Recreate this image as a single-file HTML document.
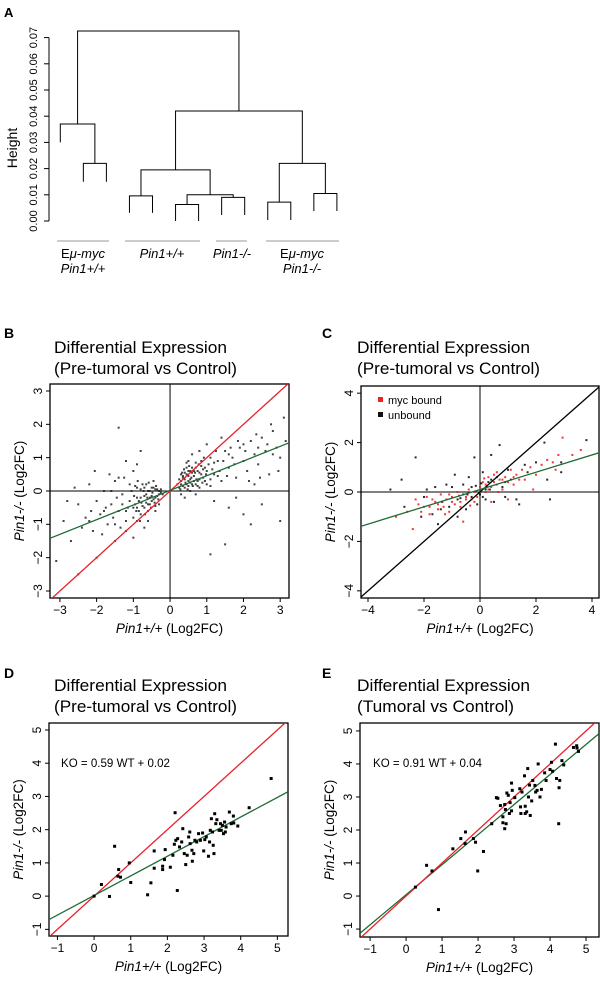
<!DOCTYPE html>
<html><head><meta charset="utf-8"><style>
html,body{margin:0;padding:0;background:#fff;}
svg{display:block;font-family:"Liberation Sans",Arial,sans-serif;}
</style></head><body>
<svg id="fig" width="600" height="985" viewBox="0 0 600 985" xmlns="http://www.w3.org/2000/svg">
<defs>
<clipPath id="cB"><rect x="50" y="384" width="239" height="214"/></clipPath>
<clipPath id="cC"><rect x="361" y="386" width="238" height="212"/></clipPath>
<clipPath id="cD"><rect x="49" y="723" width="239" height="213"/></clipPath>
<clipPath id="cE"><rect x="360" y="723" width="239" height="214"/></clipPath>
</defs>
<g id="panelA"></g>
<g id="panelB"></g>
<g id="panelC"></g>
<g id="panelD"></g>
<g id="panelE"></g>
</svg>
<script>
// ---------- Panel A data ----------
const leafBottoms = [0.030,0.015,0.015,0.0031,0.0031,0.0,0.0,0.0023,0.0023,0.0004,0.0004,0.0038,0.0038];
const mergeLeft  = [-2,-1,-4,-6,-8,4,3,-10,-12,8,7,2];
const mergeRight = [-3,1,-5,-7,-9,5,6,-11,-13,9,10,11];
const mergeHeights = [0.022,0.037,0.0096,0.0063,0.009,0.010,0.0195,0.0072,0.0105,0.022,0.042,0.0725];
const heightTicks = [0,0.01,0.02,0.03,0.04,0.05,0.06,0.07];
const tickLabelsA = ["0.00","0.01","0.02","0.03","0.04","0.05","0.06","0.07"];

// ---------- Panel B data ----------
const bX = [0.3,0.35,0.4,0.45,0.5,0.55,0.6,0.65,0.7,0.75,0.8,0.85,0.9,0.95,1.0,1.05,1.1,1.2,1.3,1.4,1.5,1.6,1.7,1.8,1.9,2.0,2.1,2.2,2.3,2.4,2.5,2.6,2.7,2.8,2.9,3.0,3.1,0.3,0.4,0.5,0.6,0.7,0.8,1.0,1.2,1.4,1.6,2.0,2.5,3.0,1.1,1.5,2.2,0.25,0.33,0.42,0.48,0.52,0.58,0.62,0.68,0.72,0.78,0.88,0.92,0.98,1.15,1.25,1.35,1.45,1.55,1.65,1.75,1.85,2.05,2.15,2.35,2.45,2.65,2.75,2.95,3.15,0.38,0.28,0.55,0.45,
0.3,0.35,0.4,0.45,0.5,0.55,0.6,0.65,0.7,0.75,0.8,0.85,0.9,0.4,0.5,0.6,0.7,0.8,0.35,0.45,0.55,0.65,0.75,0.85,1.0,1.1,1.2,1.3,0.3,0.5,0.2,0.25,1.1,0.95,1.6,2.0,2.4,2.8,1.8,2.3,
-0.3,-0.35,-0.4,-0.45,-0.5,-0.55,-0.6,-0.65,-0.7,-0.75,-0.8,-0.85,-0.9,-0.95,-1.0,-1.05,-1.1,-1.2,-1.3,-1.4,-1.5,-1.6,-1.7,-1.8,-1.9,-2.0,-2.1,-2.2,-2.3,-2.5,-2.7,-2.9,-3.1,-1.0,-1.2,-0.8,-1.5,-1.0,-0.7,-2.0,-2.5,-1.4,-0.9,-0.25,-0.32,-0.38,-0.42,-0.48,-0.52,-0.58,-0.62,-0.68,-0.72,-0.78,-0.82,-0.88,-0.92,-0.98,-1.15,-1.25,-1.35,-1.45,-1.55,-1.65,-1.75,-1.85,-2.05,-2.15,-2.4,-2.6,-2.8,-0.6,-0.4,-0.3,
-0.3,-0.35,-0.4,-0.45,-0.5,-0.55,-0.6,-0.65,-0.7,-0.75,-0.8,-0.85,-0.9,-0.95,-0.4,-0.5,-0.6,-0.7,-0.8,-0.9,-1.0,-1.1,-1.2,-1.3,-0.2,-0.25,-0.45,-0.55,-0.65,-1.5,-1.2,-0.9,-1.8,-2.2,-1.6,-1.4];
const bY = [0.2,0.4,0.1,0.5,0.3,0.6,0.2,0.45,0.7,0.3,0.55,0.9,0.4,0.7,0.2,0.8,1.0,0.5,0.9,0.3,1.2,0.7,1.0,0.4,1.3,0.9,0.6,1.5,1.1,0.8,1.6,1.2,0.5,1.8,1.3,1.0,2.2,-0.1,-0.2,0.9,1.1,-0.1,1.2,1.4,-0.3,1.6,-0.5,-0.7,-0.4,-0.9,-1.9,-1.6,-1.0,0.35,0.55,0.25,0.05,0.75,0.4,0.15,0.55,0.35,0.8,0.25,1.0,0.5,0.65,1.2,0.6,0.9,0.45,1.3,0.8,1.5,1.2,0.3,1.7,0.4,1.4,2.0,0.6,1.5,0.65,0.05,0.0,0.85,
0.3,0.15,0.35,0.2,0.45,0.25,0.55,0.3,0.2,0.6,0.35,0.5,0.65,0.55,0.15,0.7,0.85,0.1,0.45,0.7,0.35,0.6,0.15,0.75,0.6,0.35,0.85,0.45,0.5,0.6,0.2,0.1,0.15,0.3,1.1,1.4,1.3,1.1,-0.2,0.2,
-0.1,0.05,-0.2,0.1,-0.3,0.0,-0.4,-0.1,-0.5,0.2,-0.2,-0.6,0.1,-0.4,-0.8,0.0,-0.3,-0.9,-0.1,-0.6,0.3,-0.4,-1.0,0.0,-0.7,-0.3,-1.2,0.2,-0.8,-0.4,-1.5,-0.9,-2.1,0.6,0.9,1.2,-1.5,-1.4,-1.1,-2.0,-2.5,1.9,0.8,-0.05,-0.25,0.15,-0.35,-0.05,-0.5,0.25,-0.2,-0.7,0.0,-0.35,-0.9,0.3,-0.6,-0.15,-0.5,0.4,-1.1,-0.2,-0.8,0.5,-0.5,-1.3,0.6,-0.6,-1.1,0.1,-0.3,-0.9,-0.6,-0.4,
0.0,-0.15,0.05,-0.25,0.1,-0.2,0.0,-0.35,-0.15,-0.45,0.05,-0.3,-0.5,0.15,-0.45,-0.15,-0.6,0.1,-0.7,-0.2,-0.5,0.2,-0.6,-0.4,-0.1,0.05,0.3,-0.4,0.2,-1.0,-1.2,-0.9,-0.6,-0.9,0.0,0.4];
const bTicks = [-3,-2,-1,0,1,2,3];
const bFitSlope = 0.44, bFitIntercept = 0.02;

// ---------- Panel C data ----------
const cRedX = [-3.0,-2.6,-2.4,-2.2,-2.0,-1.9,-1.8,-1.6,-1.5,-1.4,-1.3,-1.2,-1.1,-1.0,-0.9,-0.8,-0.7,-0.6,-0.5,-0.4,-0.3,-0.2,-0.1,0.0,0.1,0.2,0.3,0.4,0.5,0.6,0.7,0.8,0.9,1.0,1.1,1.2,1.3,1.5,1.6,1.8,2.0,2.2,2.4,2.6,2.8,2.95,3.3,3.6,1.0,0.4,-1.7,-2.3,-1.25,-0.35,0.25,0.65,1.9,2.7,-0.75,0.15,-1.5,-1.0,-0.5,0.2,0.5,0.8,1.2,-1.8,-2.1,-0.7,0.3,1.4,-1.1,0.6,-0.2];
const cRedY = [-1.0,-0.8,-1.5,-0.5,-0.6,-0.2,-0.9,-0.4,-0.7,-0.1,-0.6,-0.3,-0.8,-0.2,-0.5,0.0,-0.4,-1.2,-0.2,0.1,-0.3,0.0,-0.2,0.2,0.4,0.0,0.6,0.2,0.7,0.3,0.5,0.1,0.6,0.4,0.9,0.3,0.7,0.9,0.5,1.0,0.7,1.1,1.3,1.2,1.5,2.2,1.5,1.7,-0.3,-0.4,-0.3,-0.3,-0.9,-0.55,0.25,0.0,0.1,0.9,-0.15,0.55,-0.5,-0.4,-0.3,0.3,0.4,0.5,0.6,-0.6,-0.8,-0.6,0.1,0.5,-0.1,0.8,-0.4];
const cBlackX = [-3.2,-2.8,-2.3,-2.7,-2.1,-1.9,-1.6,-1.5,-1.2,-1.1,-0.9,-0.8,-0.6,-0.5,-0.4,-0.3,-0.2,-0.1,0.0,0.1,0.2,0.3,0.4,0.5,0.7,0.8,0.9,1.1,1.3,1.4,1.6,2.0,2.3,2.4,2.5,2.9,3.8,2.9,-1.35,-0.7,0.6,-0.15,0.05,1.7,-2.0,-1.0,0.35,-0.45,-1.4,-0.8,0.2,0.4,-0.6,-1.7,0.9,-0.3,0.1,1.0];
const cBlackY = [0.1,0.5,1.4,-0.6,-1.0,0.1,0.2,-1.3,0.3,-0.6,0.7,-1.0,0.3,-0.7,0.6,-0.2,1.4,-0.5,-0.1,0.8,-0.3,0.4,1.5,-0.4,1.9,0.2,-0.2,0.5,-0.3,-0.5,1.1,1.2,2.0,0.5,-0.3,1.2,2.1,0.8,-0.4,-0.25,0.6,0.25,0.35,0.8,-0.2,0.2,0.1,-0.1,-0.7,-0.3,0.1,0.5,-0.1,-0.9,0.4,0.2,-0.2,0.9];
const cTicks = [-4,-2,0,2,4];
const cFitSlope = 0.35, cFitIntercept = 0.1;

// ---------- Panel D data ----------
const dX = [0,0.2,0.42,0.56,0.67,0.65,0.72,0.96,1.0,1.46,1.55,1.64,1.64,1.87,1.87,1.94,1.92,2.08,2.15,2.19,2.21,2.27,2.23,2.28,2.33,2.39,2.42,2.46,2.5,2.54,2.58,2.61,2.62,2.67,2.68,2.72,2.75,2.8,2.85,2.9,2.96,2.99,3.02,3.06,3.12,3.15,3.17,3.2,3.23,3.25,3.27,3.29,3.32,3.35,3.41,3.45,3.5,3.53,3.56,3.6,3.69,3.74,3.8,3.81,3.92,4.23,4.83,3.47,3.58];
const dY = [0,0.35,-0.01,1.5,0.8,0.6,0.57,1.0,0.41,0.04,0.4,1.36,0.84,0.9,0.8,1.4,1.1,0.87,1.23,1.56,2.51,0.17,1.68,1.73,1.48,1.63,2.03,1.28,0.95,1.23,1.78,1.93,1.58,1.38,1.05,1.28,1.68,1.63,1.88,1.68,1.9,1.36,1.7,1.78,1.2,1.63,1.98,2.33,1.93,1.53,1.28,2.48,2.18,2.3,1.98,2.18,2.13,1.88,2.23,2.08,2.53,2.18,2.41,2.2,2.11,2.66,3.54,1.98,1.93];
const dSlope = 0.59, dIntercept = 0.02;

// ---------- Panel E data ----------
const eX = [0.26,0.57,0.72,0.9,1.3,1.52,1.65,1.64,1.87,1.93,1.99,2.15,2.38,2.51,2.55,2.62,2.69,2.69,2.74,2.74,2.76,2.78,2.8,2.84,2.87,2.89,2.93,2.93,2.95,3.02,3.16,3.18,3.19,3.22,3.29,3.31,3.31,3.35,3.38,3.4,3.43,3.45,3.49,3.52,3.58,3.6,3.64,3.67,3.72,3.76,3.85,3.89,4.0,4.04,4.07,4.15,4.18,4.24,4.27,4.25,4.33,4.38,4.65,4.74,4.79,4.75];
const eY = [0.27,0.93,0.76,-0.41,1.43,1.74,1.94,1.59,1.74,1.63,0.76,1.35,2.19,2.98,2.96,2.74,2.4,2.22,2.77,2.04,2.62,2.19,3.12,3.05,2.5,2.83,3.42,2.58,3.2,2.98,3.25,2.7,2.5,3.15,3.64,2.72,2.5,2.55,3.86,3.0,3.36,2.44,2.88,3.5,3.35,3.15,3.2,4.0,3.0,3.23,3.73,3.5,3.83,4.05,3.78,4.6,3.56,2.19,3.5,3.28,4.1,3.97,4.5,4.55,4.38,4.48];
const eSlope = 0.91, eIntercept = 0.04;
const deTicks = [-1,0,1,2,3,4,5];

const NS = "http://www.w3.org/2000/svg";
function mk(parent, tag, attrs, txt){
  const el = document.createElementNS(NS, tag);
  for (const k in attrs) el.setAttribute(k, attrs[k]);
  if (txt !== undefined) el.textContent = txt;
  parent.appendChild(el);
  return el;
}
function linScale(d0, d1, r0, r1){ return v => r0 + (v - d0) * (r1 - r0) / (d1 - d0); }

// ---------- Panel A ----------
(function(){
  const g = document.getElementById('panelA');
  const yA = linScale(0, 0.07, 221, 37.6);
  const leafX = i => 60.3 + i * 23.05;
  let t = mk(g,'text',{x:4,y:17,'font-size':13,'font-weight':'bold'},'A');
   
  let ax = mk(g,'line',{x1:49,x2:49,y1:yA(0),y2:yA(0.07),stroke:'#000','stroke-width':1});
   
  heightTicks.forEach((v,i)=>{
    const tk = mk(g,'line',{x1:44,x2:49,y1:yA(v),y2:yA(v),stroke:'#000'});
     
    const lb = mk(g,'text',{x:0,y:0,'font-size':11,'text-anchor':'middle',transform:`translate(37,${yA(v)}) rotate(-90)`},tickLabelsA[i]);
     
  });
  const ht = mk(g,'text',{x:0,y:0,'font-size':14,'text-anchor':'middle',transform:'translate(17,148) rotate(-90)'},'Height');
   
  const nodeX = [], nodeH = [];
  function pos(c){ return c < 0 ? [leafX(-c-1), leafBottoms[-c-1]] : [nodeX[c-1], nodeH[c-1]]; }
  mergeHeights.forEach((h,i)=>{
    const [xl,hl] = pos(mergeLeft[i]); const [xr,hr] = pos(mergeRight[i]);
    nodeX.push((xl+xr)/2); nodeH.push(h);
    const p = mk(g,'path',{d:`M${xl},${yA(hl)}V${yA(h)}H${xr}V${yA(hr)}`,fill:'none',stroke:'#000','stroke-width':1});
     
  });
  const groups = [[57,109,83,'Eμ-myc','Pin1+/+'],[125,200,162,null,'Pin1+/+'],[216,247,232,null,'Pin1-/-'],[266,339,302,'Eμ-myc','Pin1-/-']];
  groups.forEach(gr=>{
    const l = mk(g,'line',{x1:gr[0],x2:gr[1],y1:241,y2:241,stroke:'#999','stroke-width':1});
     
    if (gr[3]) {
      const a = mk(g,'text',{x:gr[2],y:258,'font-size':13,'text-anchor':'middle'});
       
      mk(a,'tspan',{},'E'); mk(a,'tspan',{'font-style':'italic'},'μ-myc');
      const b = mk(g,'text',{x:gr[2],y:273,'font-size':13,'text-anchor':'middle','font-style':'italic'},gr[4]);
       
    } else {
      const b = mk(g,'text',{x:gr[2],y:258,'font-size':13,'text-anchor':'middle','font-style':'italic'},gr[4]);
       
    }
  });
})();

// ---------- generic scatter panel ----------
function panel(id, o){
  const g = document.getElementById(id);
  const sx = linScale(o.xd[0],o.xd[1],o.box[0],o.box[2]);
  const sy = linScale(o.yd[0],o.yd[1],o.box[3],o.box[1]);
  const L = mk(g,'text',{x:o.lx,y:o.ly,'font-size':14,'font-weight':'bold'},o.letter);
   
  const t1 = mk(g,'text',{x:o.tx,y:o.ty,'font-size':16.5,textLength:173,lengthAdjust:'spacingAndGlyphs'},'Differential Expression');
   
  const t2 = mk(g,'text',{x:o.tx,y:o.ty+21,'font-size':16.5,textLength:o.t2len,lengthAdjust:'spacingAndGlyphs'},o.title2);
   
  const W = o.box[2]-o.box[0], H = o.box[3]-o.box[1];
  const fr = mk(g,'rect',{x:o.box[0],y:o.box[1],width:W,height:H,fill:'none',stroke:'#000','stroke-width':1.3});
   
  o.ticks.forEach(v=>{
    const a = mk(g,'line',{x1:sx(v),x2:sx(v),y1:o.box[3],y2:o.box[3]+4,stroke:'#000'});
     
    const al = mk(g,'text',{x:sx(v),y:o.box[3]+16,'font-size':12,'text-anchor':'middle'},String(v).replace('-','\u2212'));
     
    const b = mk(g,'line',{x1:o.box[0]-4,x2:o.box[0],y1:sy(v),y2:sy(v),stroke:'#000'});
     
    const bl = mk(g,'text',{x:0,y:0,'font-size':12,'text-anchor':'middle',transform:`translate(${o.box[0]-8},${sy(v)}) rotate(-90)`},String(v).replace('-','\u2212'));
     
  });
  const cx = (o.box[0]+o.box[2])/2, cy=(o.box[1]+o.box[3])/2;
  const xl = mk(g,'text',{x:cx,y:o.box[3]+35,'font-size':13.5,'text-anchor':'middle'});
   
  mk(xl,'tspan',{'font-style':'italic'},'Pin1+/+'); mk(xl,'tspan',{},' (Log2FC)');
  const yl = mk(g,'text',{x:0,y:0,'font-size':13.5,'text-anchor':'middle',transform:`translate(${o.box[0]-26},${cy}) rotate(-90)`});
   
  mk(yl,'tspan',{'font-style':'italic'},'Pin1-/-'); mk(yl,'tspan',{},' (Log2FC)');
  const plot = mk(g,'g',{'clip-path':`url(#${o.clip})`});
   
  return {g, plot, sx, sy, xd:o.xd};
}
function fitLine(P, slope, icpt, color, name){
  const l = mk(P.plot,'line',{x1:P.sx(P.xd[0]),y1:P.sy(slope*P.xd[0]+icpt),x2:P.sx(P.xd[1]),y2:P.sy(slope*P.xd[1]+icpt),stroke:color,'stroke-width':1.3});
   
}
function points(P, xs, ys, sz, color, name, op){
  xs.forEach((x,i)=>{
    const r = mk(P.plot,'rect',{x:P.sx(x)-sz/2,y:P.sy(ys[i])-sz/2,width:sz,height:sz,fill:color,'fill-opacity':op});
     
  });
}

// B
(function(){
  const P = panel('panelB',{box:[50,384,289,598],xd:[-3.27,3.24],yd:[-3.21,3.21],ticks:bTicks,clip:'cB',letter:'B',lx:4,ly:338,tx:54,ty:353,title2:'(Pre-tumoral vs Control)',t2len:183});
  const h = mk(P.plot,'line',{x1:P.sx(-4),x2:P.sx(4),y1:P.sy(0),y2:P.sy(0),stroke:'#000'});
   
  const v = mk(P.plot,'line',{x1:P.sx(0),x2:P.sx(0),y1:P.sy(-4),y2:P.sy(4),stroke:'#000'});
   
  points(P,bX,bY,2,'#222','gene-point',0.85);
  fitLine(P,1,0,'#e8202a','identity-line');
  fitLine(P,bFitSlope,bFitIntercept,'#1f6b35','regression-line');
})();
// C
(function(){
  const P = panel('panelC',{box:[361,386,599,598],xd:[-4.25,4.25],yd:[-4.29,4.29],ticks:cTicks,clip:'cC',letter:'C',lx:322,ly:338,tx:357,ty:353,title2:'(Pre-tumoral vs Control)',t2len:183});
  const h = mk(P.plot,'line',{x1:P.sx(-5),x2:P.sx(5),y1:P.sy(0),y2:P.sy(0),stroke:'#000'});
   
  const v = mk(P.plot,'line',{x1:P.sx(0),x2:P.sx(0),y1:P.sy(-5),y2:P.sy(5),stroke:'#000'});
   
  points(P,cBlackX,cBlackY,2,'#111','unbound-point',0.9);
  points(P,cRedX,cRedY,2,'#ee2222','myc-bound-point',0.9);
  fitLine(P,1,0,'#000','identity-line');
  fitLine(P,cFitSlope,cFitIntercept,'#1f6b35','regression-line');
  const lg = mk(P.g,'g',{});
   
  const r1 = mk(lg,'rect',{x:378,y:397,width:5,height:5,fill:'#ee2222'});
   
  const l1 = mk(lg,'text',{x:388,y:404,'font-size':11},'myc bound');
   
  const r2 = mk(lg,'rect',{x:378,y:412,width:5,height:5,fill:'#111'});
   
  const l2 = mk(lg,'text',{x:388,y:419,'font-size':11},'unbound');
   
})();
// D
(function(){
  const P = panel('panelD',{box:[49,723,288,936],xd:[-1.23,5.29],yd:[-1.2,5.21],ticks:deTicks,clip:'cD',letter:'D',lx:4,ly:678,tx:54,ty:691,title2:'(Pre-tumoral vs Control)',t2len:183});
  fitLine(P,1,0,'#e8202a','identity-line');
  fitLine(P,dSlope,dIntercept,'#1f6b35','regression-line');
  points(P,dX,dY,3,'#000','gene-point',1);
  const k = mk(P.g,'text',{x:61,y:767,'font-size':12,textLength:109,lengthAdjust:'spacingAndGlyphs'},'KO = 0.59 WT + 0.02');
   
})();
// E
(function(){
  const P = panel('panelE',{box:[360,723,599,937],xd:[-1.28,5.36],yd:[-1.24,5.24],ticks:deTicks,clip:'cE',letter:'E',lx:322,ly:678,tx:357,ty:691,title2:'(Tumoral vs Control)',t2len:157});
  fitLine(P,eSlope,eIntercept,'#1f6b35','regression-line');
  fitLine(P,1,0,'#e8202a','identity-line');
  points(P,eX,eY,3,'#000','gene-point',1);
  const k = mk(P.g,'text',{x:373,y:767,'font-size':12,textLength:109,lengthAdjust:'spacingAndGlyphs'},'KO = 0.91 WT + 0.04');
   
})();
</script>
</body></html>
